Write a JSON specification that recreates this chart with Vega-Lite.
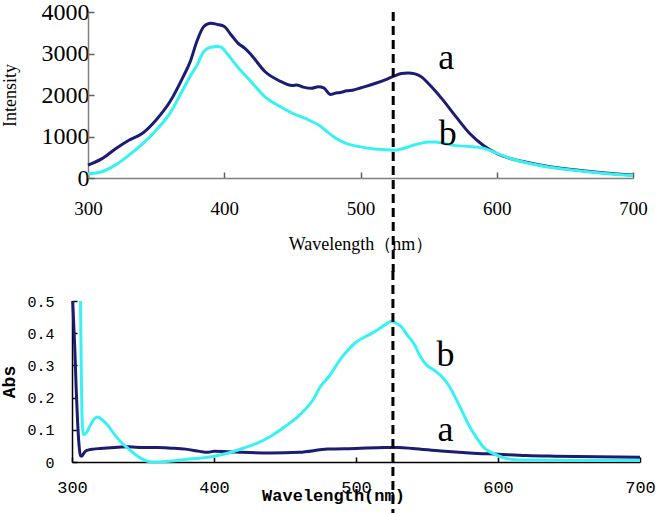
{
  "$schema": "https://vega.github.io/schema/vega-lite/v6.json",
  "padding": {"left": 0, "top": 0, "right": 0, "bottom": 0},
  "background": "white",
  "spacing": -5,
  "bounds": "full",
  "config": {"view": {"stroke": null}, "axis": {"grid": false, "labelFlush": false, "labelOverlap": false, "labelColor": "black", "titleColor": "black"}},
  "datasets": {
    "fl": [
      {"x":300,"y":310,"s":"a"},{"x":310,"y":460,"s":"a"},{"x":320,"y":700,"s":"a"},{"x":330,"y":910,"s":"a"},{"x":340,"y":1080,"s":"a"},{"x":350,"y":1400,"s":"a"},{"x":360,"y":1830,"s":"a"},{"x":370,"y":2450,"s":"a"},{"x":375,"y":2800,"s":"a"},{"x":380,"y":3300,"s":"a"},{"x":385,"y":3650,"s":"a"},{"x":390,"y":3730,"s":"a"},{"x":395,"y":3700,"s":"a"},{"x":400,"y":3650,"s":"a"},{"x":405,"y":3450,"s":"a"},{"x":410,"y":3250,"s":"a"},{"x":415,"y":3130,"s":"a"},{"x":420,"y":2960,"s":"a"},{"x":430,"y":2560,"s":"a"},{"x":440,"y":2350,"s":"a"},{"x":450,"y":2230,"s":"a"},{"x":453,"y":2240,"s":"a"},{"x":458,"y":2190,"s":"a"},{"x":464,"y":2160,"s":"a"},{"x":469,"y":2200,"s":"a"},{"x":473,"y":2170,"s":"a"},{"x":478,"y":2010,"s":"a"},{"x":481,"y":2040,"s":"a"},{"x":485,"y":2060,"s":"a"},{"x":490,"y":2100,"s":"a"},{"x":495,"y":2120,"s":"a"},{"x":500,"y":2170,"s":"a"},{"x":510,"y":2270,"s":"a"},{"x":520,"y":2390,"s":"a"},{"x":525,"y":2460,"s":"a"},{"x":530,"y":2520,"s":"a"},{"x":535,"y":2530,"s":"a"},{"x":540,"y":2510,"s":"a"},{"x":545,"y":2430,"s":"a"},{"x":550,"y":2270,"s":"a"},{"x":560,"y":1900,"s":"a"},{"x":570,"y":1480,"s":"a"},{"x":580,"y":1080,"s":"a"},{"x":590,"y":790,"s":"a"},{"x":600,"y":590,"s":"a"},{"x":610,"y":470,"s":"a"},{"x":620,"y":390,"s":"a"},{"x":640,"y":265,"s":"a"},{"x":660,"y":185,"s":"a"},{"x":680,"y":120,"s":"a"},{"x":700,"y":70,"s":"a"},
      {"x":300,"y":100,"s":"b"},{"x":310,"y":150,"s":"b"},{"x":320,"y":310,"s":"b"},{"x":330,"y":550,"s":"b"},{"x":340,"y":820,"s":"b"},{"x":350,"y":1150,"s":"b"},{"x":360,"y":1550,"s":"b"},{"x":370,"y":2150,"s":"b"},{"x":375,"y":2450,"s":"b"},{"x":380,"y":2720,"s":"b"},{"x":385,"y":3050,"s":"b"},{"x":390,"y":3150,"s":"b"},{"x":395,"y":3170,"s":"b"},{"x":398,"y":3150,"s":"b"},{"x":400,"y":3080,"s":"b"},{"x":410,"y":2670,"s":"b"},{"x":420,"y":2310,"s":"b"},{"x":430,"y":1950,"s":"b"},{"x":440,"y":1740,"s":"b"},{"x":450,"y":1560,"s":"b"},{"x":460,"y":1430,"s":"b"},{"x":465,"y":1350,"s":"b"},{"x":470,"y":1260,"s":"b"},{"x":475,"y":1130,"s":"b"},{"x":480,"y":1000,"s":"b"},{"x":485,"y":900,"s":"b"},{"x":490,"y":830,"s":"b"},{"x":500,"y":750,"s":"b"},{"x":510,"y":700,"s":"b"},{"x":520,"y":680,"s":"b"},{"x":525,"y":670,"s":"b"},{"x":530,"y":700,"s":"b"},{"x":540,"y":800,"s":"b"},{"x":550,"y":870,"s":"b"},{"x":555,"y":870,"s":"b"},{"x":560,"y":840,"s":"b"},{"x":570,"y":780,"s":"b"},{"x":580,"y":760,"s":"b"},{"x":590,"y":720,"s":"b"},{"x":600,"y":600,"s":"b"},{"x":610,"y":470,"s":"b"},{"x":620,"y":380,"s":"b"},{"x":640,"y":255,"s":"b"},{"x":660,"y":175,"s":"b"},{"x":680,"y":110,"s":"b"},{"x":700,"y":60,"s":"b"}
    ],
    "abs": [
      {"x":300.5,"y":0.5,"s":"a"},{"x":302,"y":0.35,"s":"a"},{"x":303,"y":0.22,"s":"a"},{"x":304,"y":0.12,"s":"a"},{"x":305,"y":0.05,"s":"a"},{"x":306,"y":0.02,"s":"a"},{"x":307,"y":0.018,"s":"a"},{"x":308,"y":0.025,"s":"a"},{"x":310,"y":0.035,"s":"a"},{"x":315,"y":0.04,"s":"a"},{"x":320,"y":0.042,"s":"a"},{"x":330,"y":0.045,"s":"a"},{"x":340,"y":0.047,"s":"a"},{"x":350,"y":0.045,"s":"a"},{"x":360,"y":0.045,"s":"a"},{"x":370,"y":0.043,"s":"a"},{"x":380,"y":0.04,"s":"a"},{"x":390,"y":0.033,"s":"a"},{"x":395,"y":0.03,"s":"a"},{"x":400,"y":0.033,"s":"a"},{"x":410,"y":0.032,"s":"a"},{"x":420,"y":0.03,"s":"a"},{"x":440,"y":0.028,"s":"a"},{"x":460,"y":0.03,"s":"a"},{"x":480,"y":0.04,"s":"a"},{"x":500,"y":0.042,"s":"a"},{"x":520,"y":0.045,"s":"a"},{"x":530,"y":0.045,"s":"a"},{"x":540,"y":0.042,"s":"a"},{"x":560,"y":0.034,"s":"a"},{"x":580,"y":0.028,"s":"a"},{"x":600,"y":0.024,"s":"a"},{"x":620,"y":0.02,"s":"a"},{"x":640,"y":0.018,"s":"a"},{"x":670,"y":0.016,"s":"a"},{"x":700,"y":0.015,"s":"a"},
      {"x":306,"y":0.5,"s":"b"},{"x":306.5,"y":0.3,"s":"b"},{"x":307,"y":0.15,"s":"b"},{"x":308,"y":0.085,"s":"b"},{"x":310,"y":0.09,"s":"b"},{"x":313,"y":0.115,"s":"b"},{"x":316,"y":0.135,"s":"b"},{"x":318,"y":0.14,"s":"b"},{"x":320,"y":0.135,"s":"b"},{"x":325,"y":0.115,"s":"b"},{"x":330,"y":0.085,"s":"b"},{"x":335,"y":0.06,"s":"b"},{"x":340,"y":0.04,"s":"b"},{"x":345,"y":0.022,"s":"b"},{"x":350,"y":0.008,"s":"b"},{"x":355,"y":0.001,"s":"b"},{"x":360,"y":0.0,"s":"b"},{"x":370,"y":0.003,"s":"b"},{"x":380,"y":0.008,"s":"b"},{"x":390,"y":0.012,"s":"b"},{"x":400,"y":0.018,"s":"b"},{"x":410,"y":0.028,"s":"b"},{"x":420,"y":0.042,"s":"b"},{"x":430,"y":0.058,"s":"b"},{"x":440,"y":0.08,"s":"b"},{"x":450,"y":0.11,"s":"b"},{"x":460,"y":0.145,"s":"b"},{"x":470,"y":0.195,"s":"b"},{"x":475,"y":0.235,"s":"b"},{"x":480,"y":0.26,"s":"b"},{"x":490,"y":0.325,"s":"b"},{"x":500,"y":0.372,"s":"b"},{"x":510,"y":0.397,"s":"b"},{"x":515,"y":0.41,"s":"b"},{"x":520,"y":0.425,"s":"b"},{"x":525,"y":0.437,"s":"b"},{"x":528,"y":0.432,"s":"b"},{"x":532,"y":0.42,"s":"b"},{"x":536,"y":0.395,"s":"b"},{"x":541,"y":0.366,"s":"b"},{"x":545,"y":0.33,"s":"b"},{"x":550,"y":0.3,"s":"b"},{"x":555,"y":0.285,"s":"b"},{"x":560,"y":0.267,"s":"b"},{"x":565,"y":0.24,"s":"b"},{"x":570,"y":0.2,"s":"b"},{"x":575,"y":0.155,"s":"b"},{"x":580,"y":0.11,"s":"b"},{"x":585,"y":0.075,"s":"b"},{"x":590,"y":0.045,"s":"b"},{"x":595,"y":0.03,"s":"b"},{"x":600,"y":0.02,"s":"b"},{"x":605,"y":0.012,"s":"b"},{"x":610,"y":0.008,"s":"b"},{"x":620,"y":0.006,"s":"b"},{"x":650,"y":0.005,"s":"b"},{"x":700,"y":0.005,"s":"b"}
    ],
    "flrule": [{"x": 524, "y1": 4000, "y2": -2265}],
    "absrule": [{"x": 526, "y1": 0.593, "y2": -0.161}],
    "fllab": [{"x": 563, "y": 2627, "t": "a"}, {"x": 564, "y": 795, "t": "b"}],
    "abslab": [{"x": 563, "y": 0.298, "t": "b"}, {"x": 563, "y": 0.065, "t": "a"}]
  },
  "vconcat": [
    {
      "width": 561,
      "height": 166,
      "layer": [
        {
          "data": {"name": "fl"},
          "mark": {"type": "line", "strokeWidth": 3, "interpolate": "monotone"},
          "encoding": {
            "x": {"field": "x", "type": "quantitative", "scale": {"domain": [300, 700], "nice": false, "range": [16, 561]},
              "axis": {"values": [300, 400, 500, 600, 700], "tickCount": 10, "format": "d", "labelOverlap": false, "title": "Wavelength（nm）", "titleFont": "Liberation Serif", "titleFontSize": 18, "titleFontWeight": "normal", "titlePadding": 17,
                "labelFont": "Liberation Serif", "labelFontSize": 19, "labelPadding": 27, "domainColor": "#808080", "domainWidth": 1.5, "tickColor": "#606060", "tickWidth": 1.5, "tickSize": -6}},
            "y": {"field": "y", "type": "quantitative", "scale": {"domain": [0, 4000], "nice": false},
              "axis": {"values": [0, 1000, 2000, 3000, 4000], "tickCount": 10, "offset": -16, "format": "d", "labelOverlap": false, "title": "Intensity", "titleFont": "Liberation Serif", "titleFontSize": 18, "titleFontWeight": "normal", "titlePadding": 22,
                "labelFont": "Liberation Serif", "labelFontSize": 24, "labelPadding": 5, "domainColor": "#808080", "domainWidth": 1.5, "tickColor": "#606060", "tickWidth": 1.5, "tickSize": -6}},
            "color": {"field": "s", "type": "nominal", "scale": {"domain": ["a", "b"], "range": ["#1c1c72", "#38f2f2"]}, "legend": null}
          }
        },
        {
          "data": {"name": "flrule"},
          "mark": {"type": "rule", "strokeDash": [9, 5], "strokeWidth": 3, "color": "black"},
          "encoding": {"x": {"field": "x", "type": "quantitative"}, "y": {"field": "y1", "type": "quantitative"}, "y2": {"field": "y2"}}
        },
        {
          "data": {"name": "fllab"},
          "mark": {"type": "text", "font": "Liberation Serif", "fontSize": 36, "baseline": "alphabetic", "align": "center", "color": "black"},
          "encoding": {"x": {"field": "x", "type": "quantitative"}, "y": {"field": "y", "type": "quantitative"}, "text": {"field": "t"}}
        }
      ]
    },
    {
      "width": 568,
      "height": 161,
      "layer": [
        {
          "data": {"name": "abs"},
          "mark": {"type": "line", "strokeWidth": 3, "interpolate": "monotone"},
          "encoding": {
            "x": {"field": "x", "type": "quantitative", "scale": {"domain": [300, 700], "nice": false},
              "axis": {"values": [300, 400, 500, 600, 700], "tickCount": 10, "format": "d", "labelOverlap": false, "title": "Wavelength(nm)", "titleFont": "Liberation Mono", "titleFontSize": 17, "titleFontWeight": "bold", "titlePadding": -8, "titleX": 261,
                "labelFont": "Liberation Mono", "labelFontSize": 17, "labelPadding": 22, "domainColor": "black", "domainWidth": 1.5, "tickColor": "black", "tickWidth": 1.5, "tickSize": -5}},
            "y": {"field": "y", "type": "quantitative", "scale": {"domain": [0, 0.5], "nice": false},
              "axis": {"values": [0, 0.1, 0.2, 0.3, 0.4, 0.5], "tickCount": 10, "format": "~g", "labelOverlap": false, "title": "Abs", "titleFont": "Liberation Mono", "titleFontSize": 18, "titleFontWeight": "bold", "titlePadding": 8,
                "labelFont": "Liberation Mono", "labelFontSize": 15, "labelPadding": 23, "domainColor": "black", "domainWidth": 1.5, "tickColor": "black", "tickWidth": 1.5, "tickSize": -5}},
            "color": {"field": "s", "type": "nominal", "scale": {"domain": ["a", "b"], "range": ["#1c1c72", "#38f2f2"]}, "legend": null}
          }
        },
        {
          "data": {"name": "absrule"},
          "mark": {"type": "rule", "strokeDash": [9, 5], "strokeWidth": 3, "color": "black"},
          "encoding": {"x": {"field": "x", "type": "quantitative"}, "y": {"field": "y1", "type": "quantitative"}, "y2": {"field": "y2"}}
        },
        {
          "data": {"name": "abslab"},
          "mark": {"type": "text", "font": "Liberation Serif", "fontSize": 36, "baseline": "alphabetic", "align": "center", "color": "black"},
          "encoding": {"x": {"field": "x", "type": "quantitative"}, "y": {"field": "y", "type": "quantitative"}, "text": {"field": "t"}}
        }
      ]
    }
  ]
}
